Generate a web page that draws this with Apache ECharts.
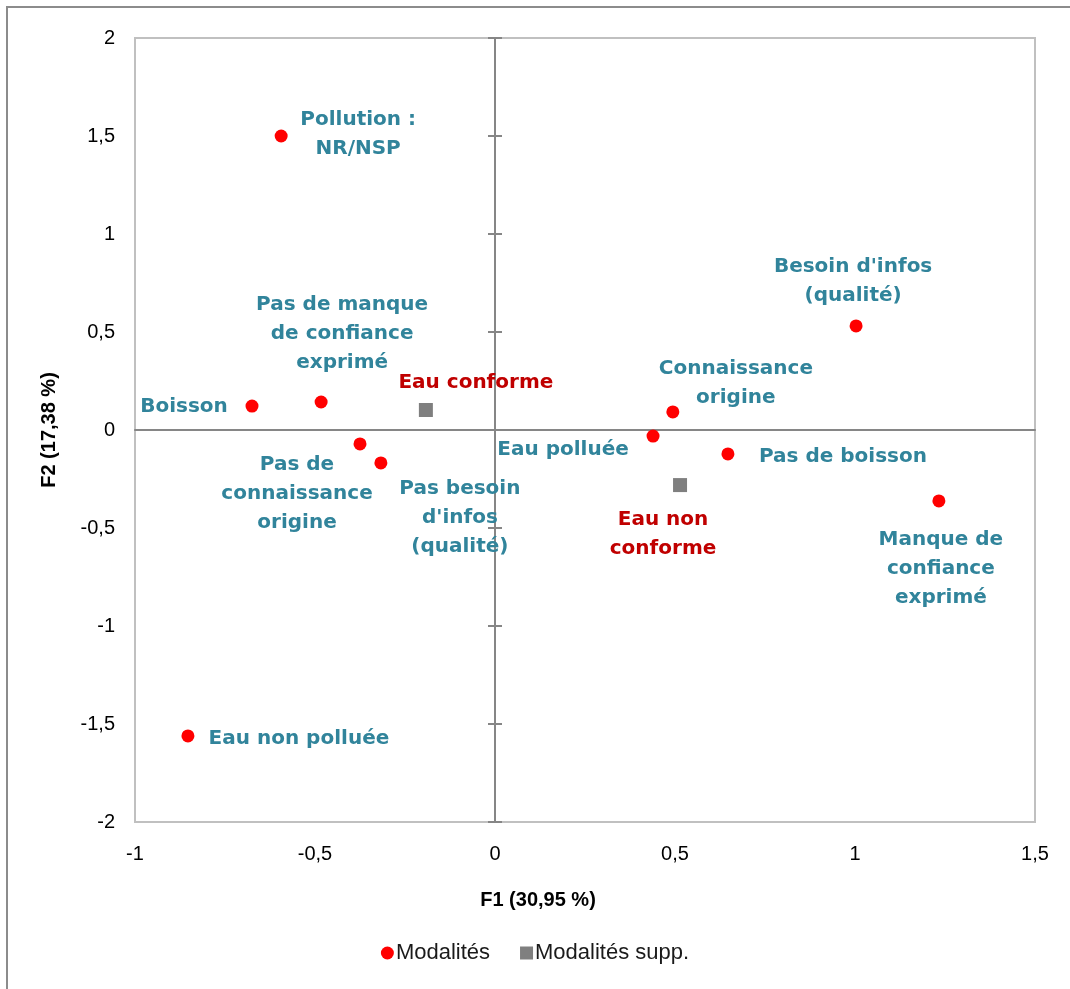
<!DOCTYPE html>
<html>
<head>
<meta charset="utf-8">
<script src="https://cdn.jsdelivr.net/npm/echarts@6/dist/echarts.min.js"></script>
<style>
  html, body { margin: 0; padding: 0; background: #fff; }
  #chart { width: 1070px; height: 989px; }
</style>
</head>
<body>
<div id="chart"></div>
<script>
// modalités actives
const modNames = [
    "Pollution :\nNR/NSP",
    "Boisson",
    "Pas de manque\nde confiance\nexprimé",
    "Pas de\nconnaissance\norigine",
    "Pas besoin\nd'infos\n(qualité)",
    "Eau non polluée",
    "Eau polluée",
    "Connaissance\norigine",
    "Pas de boisson",
    "Besoin d'infos\n(qualité)",
    "Manque de\nconfiance\nexprimé"
];
const modX = [-0.594, -0.675, -0.483, -0.375, -0.317, -0.853, 0.439, 0.494, 0.647, 1.003, 1.233];
const modY = [1.50, 0.122, 0.143, -0.071, -0.168, -1.561, -0.031, 0.092, -0.122, 0.531, -0.362];

// modalités supplémentaires
const suppNames = ["Eau conforme", "Eau non\nconforme"];
const suppX = [-0.192, 0.514];
const suppY = [0.102, -0.281];

// décalage des étiquettes (px) par rapport au point
const labelOffsets = {
    "Pollution :\nNR/NSP": [77, -2],
    "Boisson": [-68, 1],
    "Pas de manque\nde confiance\nexprimé": [21, -68],
    "Pas de\nconnaissance\norigine": [-63, 50],
    "Pas besoin\nd'infos\n(qualité)": [79, 55],
    "Eau non polluée": [111, 3],
    "Eau polluée": [-90, 14],
    "Connaissance\norigine": [63, -29],
    "Pas de boisson": [115, 3],
    "Besoin d'infos\n(qualité)": [-3, -45],
    "Manque de\nconfiance\nexprimé": [2, 68],
    "Eau conforme": [50, -27],
    "Eau non\nconforme": [-17, 49]
};

const fmt = v => String(v).replace('.', ',');
const labelFont = 'DejaVu Sans';
const tickFont = 'Liberation Sans';

const toPoints = (names, xs, ys, color) => names.map((n, i) => ({
    name: n,
    value: [xs[i], ys[i]],
    label: {offset: labelOffsets[n], color: color}
}));

const zeroAxis = (inside) => ({
    type: 'value', min: -2, max: 2, interval: 0.5, position: 'left',
    axisLine: {show: true, onZero: true, lineStyle: {color: '#868686', width: 2}},
    axisTick: {show: true, inside: inside, length: 7, lineStyle: {color: '#868686', width: 2}},
    axisLabel: {show: false},
    splitLine: {show: false}
});

const pointLabel = {
    show: true, position: 'inside', formatter: '{b}',
    align: 'center', verticalAlign: 'middle',
    fontFamily: labelFont, fontSize: 20, fontWeight: 'bold', lineHeight: 29
};

const chart = echarts.init(document.getElementById('chart'));
chart.setOption({
    animation: false,
    backgroundColor: '#fff',
    grid: {left: 135, right: 35, top: 38, bottom: 167, show: true, borderColor: '#c0c0c0', borderWidth: 2},
    graphic: [{
        type: 'polyline',
        shape: {points: [[7, 989], [7, 7], [1070, 7]]},
        style: {stroke: '#8c8c8c', lineWidth: 2, fill: null}
    }],
    legend: {
        bottom: 20, left: 'center', itemGap: 30, itemWidth: 13, itemHeight: 13,
        textStyle: {fontFamily: tickFont, fontSize: 22, color: '#1a1a1a', padding: [0, 0, 0, -3]},
        data: [{name: 'Modalités', icon: 'circle'}, {name: 'Modalités supp.', icon: 'rect'}]
    },
    xAxis: [{
        type: 'value', min: -1, max: 1.5, interval: 0.5,
        name: 'F1 (30,95 %)', nameLocation: 'middle', nameGap: 68,
        nameTextStyle: {fontFamily: tickFont, fontSize: 20, fontWeight: 'bold', color: '#000', padding: [0, 94, 0, 0]},
        axisLine: {show: false, onZero: false},
        axisTick: {show: false},
        axisLabel: {fontFamily: tickFont, fontSize: 20, color: '#000', margin: 22, formatter: fmt},
        splitLine: {show: false}
    }, {
        type: 'value', min: -1, max: 1.5, interval: 0.5, position: 'bottom',
        axisLine: {show: true, onZero: true, lineStyle: {color: '#868686', width: 2}},
        axisTick: {show: false},
        axisLabel: {show: false},
        splitLine: {show: false}
    }],
    yAxis: [{
        type: 'value', min: -2, max: 2, interval: 0.5,
        name: 'F2 (17,38 %)', nameLocation: 'middle', nameGap: 76, nameRotate: 90,
        nameTextStyle: {fontFamily: tickFont, fontSize: 20, fontWeight: 'bold', color: '#000'},
        axisLine: {show: false, onZero: false},
        axisTick: {show: false},
        axisLabel: {fontFamily: tickFont, fontSize: 20, color: '#000', margin: 20, formatter: fmt},
        splitLine: {show: false}
    }, zeroAxis(false), zeroAxis(true)],
    series: [{
        name: 'Modalités',
        type: 'scatter',
        xAxisIndex: 0, yAxisIndex: 0,
        symbol: 'circle', symbolSize: 13,
        itemStyle: {color: '#ff0000', opacity: 1},
        label: pointLabel,
        data: toPoints(modNames, modX, modY, '#31849b'),
        z: 3
    }, {
        name: 'Modalités supp.',
        type: 'scatter',
        xAxisIndex: 0, yAxisIndex: 0,
        symbol: 'rect', symbolSize: 14,
        itemStyle: {color: '#7f7f7f', opacity: 1},
        label: pointLabel,
        data: toPoints(suppNames, suppX, suppY, '#c00000'),
        z: 3
    }]
});
</script>
</body>
</html>
